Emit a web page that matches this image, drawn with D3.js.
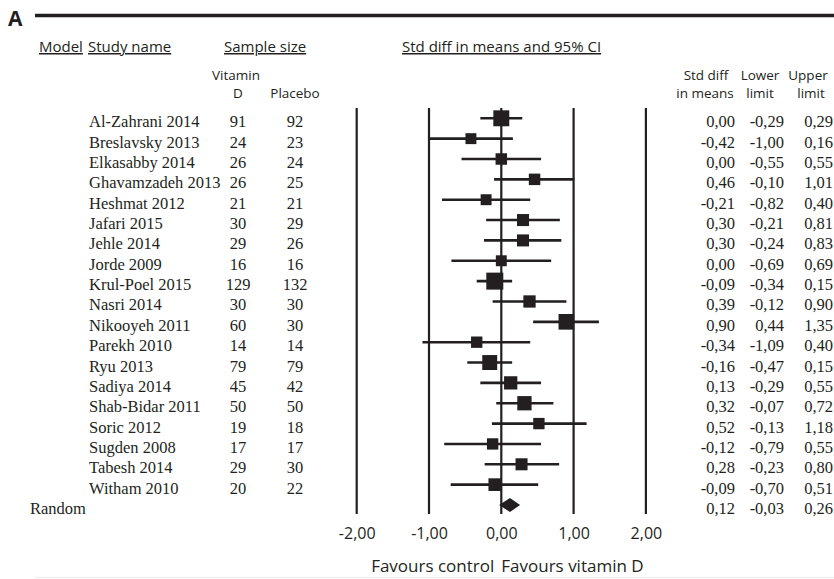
<!DOCTYPE html>
<html>
<head>
<meta charset="utf-8">
<script src="https://cdn.jsdelivr.net/npm/d3@7"></script>
<style>
  body { margin: 0; background: #fff; }
  svg { display: block; }
  .sans { font-family: "Open Sans", "Noto Sans", sans-serif; fill: #231f20; }
  .serif { font-family: "Liberation Serif", "Times New Roman", serif; fill: #231f20; }
</style>
</head>
<body>
<svg id="svg1" width="834" height="579"></svg>
<script>
// studies in the meta-analysis
var studies = ["Al-Zahrani 2014", "Breslavsky 2013", "Elkasabby 2014", "Ghavamzadeh 2013", "Heshmat 2012",
  "Jafari 2015", "Jehle 2014", "Jorde 2009", "Krul-Poel 2015", "Nasri 2014", "Nikooyeh 2011", "Parekh 2010",
  "Ryu 2013", "Sadiya 2014", "Shab-Bidar 2011", "Soric 2012", "Sugden 2008", "Tabesh 2014", "Witham 2010"];
var nVitD    = [91, 24, 26, 26, 21, 30, 29, 16, 129, 30, 60, 14, 79, 45, 50, 19, 17, 29, 20];
var nPlacebo = [92, 23, 24, 25, 21, 29, 26, 16, 132, 30, 30, 14, 79, 42, 50, 18, 17, 30, 22];
var smd   = [0.00, -0.42, 0.00, 0.46, -0.21, 0.30, 0.30, 0.00, -0.09, 0.39, 0.90, -0.34, -0.16, 0.13, 0.32, 0.52, -0.12, 0.28, -0.09];
var lower = [-0.29, -1.00, -0.55, -0.10, -0.82, -0.21, -0.24, -0.69, -0.34, -0.12, 0.44, -1.09, -0.47, -0.29, -0.07, -0.13, -0.79, -0.23, -0.70];
var upper = [0.29, 0.16, 0.55, 1.01, 0.40, 0.81, 0.83, 0.69, 0.15, 0.90, 1.35, 0.40, 0.15, 0.55, 0.72, 1.18, 0.55, 0.80, 0.51];
// relative weight (%)
var weight = [8.1, 3.8, 4.2, 4.2, 3.8, 4.6, 4.6, 3.8, 9.2, 4.8, 7.8, 4.1, 7.1, 5.6, 6.5, 4.1, 4.1, 4.6, 5.1];
// pooled random-effects result
var pooledLabel = "Random";
var pooled = [0.12, -0.03, 0.26];
var xTicks = [-2, -1, 0, 1, 2];

var svg = d3.select('#svg1');
var fmt = function(v) { return d3.format('.2f')(v).replace('−', '-').replace('.', ','); };

var x = d3.scaleLinear().domain([-2, 2]).range([356.7, 645.9]);
var y = d3.scalePoint().domain(studies.concat([pooledLabel])).range([118.3, 505]);
var box = d3.scaleSqrt().domain([0, d3.max(weight)]).range([0, 17]);

// panel letter and top rule
svg.append('text').attr('class', 'sans').attr('x', 8).attr('y', 26)
  .attr('font-size', 21).attr('font-weight', 'bold').text('A');
svg.append('line').attr('x1', 35).attr('x2', 834).attr('y1', 15.5).attr('y2', 15.5)
  .attr('stroke', '#231f20').attr('stroke-width', 3.5);
svg.append('line').attr('x1', 35).attr('x2', 834).attr('y1', 577.5).attr('y2', 577.5)
  .attr('stroke', '#ececec').attr('stroke-width', 1);

// column headers (underlined)
var heads = [['Model', 39], ['Study name', 88], ['Sample size', 224], ['Std diff in means and 95% CI', 402]];
svg.selectAll('.head').data(heads).enter().append('text')
  .attr('class', 'sans head').attr('x', function(d) { return d[1]; }).attr('y', 52)
  .attr('font-size', 15).attr('text-decoration', 'underline')
  .text(function(d) { return d[0]; });

// two-line sub headers
var sub = [['Vitamin', 236, 79.5], ['D', 238, 98], ['Placebo', 295, 98],
  ['Std diff', 706, 79.5], ['in means', 705, 98], ['Lower', 760, 79.5], ['limit', 760, 98],
  ['Upper', 808, 79.5], ['limit', 811, 98]];
svg.selectAll('.sub').data(sub).enter().append('text')
  .attr('class', 'sans sub').attr('x', function(d) { return d[1]; }).attr('y', function(d) { return d[2]; })
  .attr('font-size', 13.5).attr('text-anchor', 'middle')
  .text(function(d) { return d[0]; });

// vertical reference lines
svg.append('g').selectAll('line').data(xTicks).enter().append('line')
  .attr('x1', function(d) { return x(d); }).attr('x2', function(d) { return x(d); })
  .attr('y1', 108).attr('y2', 514)
  .attr('stroke', '#231f20').attr('stroke-width', 2.2);

// axis labels
var axis = svg.append('g').attr('transform', 'translate(0,525)')
  .call(d3.axisBottom(x).tickValues(xTicks).tickSize(0).tickFormat(fmt));
axis.select('.domain').remove();
axis.selectAll('text').attr('class', 'sans').attr('font-size', 16)
  .attr('font-family', '"Open Sans", sans-serif').attr('fill', '#231f20');

svg.append('text').attr('class', 'sans').attr('x', x(0) - 7).attr('y', 572)
  .attr('font-size', 17).attr('text-anchor', 'end').text('Favours control');
svg.append('text').attr('class', 'sans').attr('x', x(0)).attr('y', 572)
  .attr('font-size', 17).text('Favours vitamin D');

// study rows
var rows = svg.append('g').selectAll('g').data(studies).enter().append('g')
  .attr('transform', function(d) { return 'translate(0,' + y(d) + ')'; });

rows.append('text').attr('class', 'serif').attr('x', 89).attr('y', 9).attr('font-size', 16.5)
  .text(function(d) { return d; });
rows.append('text').attr('class', 'serif').attr('x', 238).attr('y', 9).attr('font-size', 16.5)
  .attr('text-anchor', 'middle').text(function(d, i) { return nVitD[i]; });
rows.append('text').attr('class', 'serif').attr('x', 295).attr('y', 9).attr('font-size', 16.5)
  .attr('text-anchor', 'middle').text(function(d, i) { return nPlacebo[i]; });

var cols = [[smd, 735], [lower, 784], [upper, 833]];
cols.forEach(function(c) {
  rows.append('text').attr('class', 'serif').attr('x', c[1]).attr('y', 9).attr('font-size', 16.5)
    .attr('text-anchor', 'end').text(function(d, i) { return fmt(c[0][i]); });
});

rows.append('line')
  .attr('x1', function(d, i) { return x(lower[i]); })
  .attr('x2', function(d, i) { return x(upper[i]); })
  .attr('stroke', '#231f20').attr('stroke-width', 2.6);

rows.append('rect')
  .attr('x', function(d, i) { return x(smd[i]) - box(weight[i]) / 2; })
  .attr('y', function(d, i) { return -box(weight[i]) / 2; })
  .attr('width', function(d, i) { return box(weight[i]); })
  .attr('height', function(d, i) { return box(weight[i]); })
  .attr('fill', '#231f20');

// pooled row
var py = y(pooledLabel);
svg.append('text').attr('class', 'serif').attr('x', 30).attr('y', py + 9).attr('font-size', 16.5).text(pooledLabel);
cols.forEach(function(c, k) {
  svg.append('text').attr('class', 'serif').attr('x', c[1]).attr('y', py + 9).attr('font-size', 16.5)
    .attr('text-anchor', 'end').text(fmt(pooled[k]));
});
svg.append('path')
  .attr('d', 'M' + x(pooled[1]) + ',' + py + 'L' + x(pooled[0]) + ',' + (py - 7) +
    'L' + x(pooled[2]) + ',' + py + 'L' + x(pooled[0]) + ',' + (py + 7) + 'Z')
  .attr('fill', '#231f20');
</script>
</body>
</html>
